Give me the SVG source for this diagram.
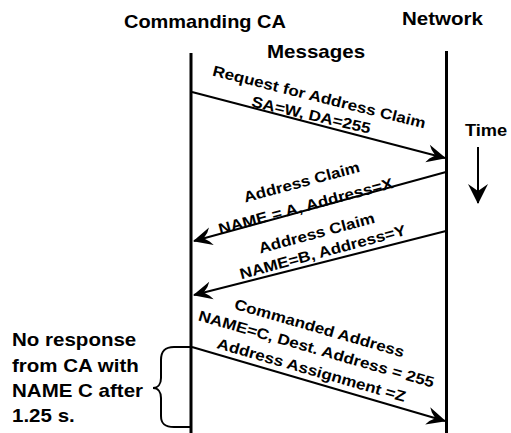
<svg xmlns="http://www.w3.org/2000/svg" width="511" height="433" viewBox="0 0 511 433">
<style>
text{font-family:"Liberation Sans",Arial,sans-serif;font-weight:bold;fill:#000}
.h{font-size:18px}
.l{font-size:15px;text-anchor:middle}
.t{font-size:16px}
.life{stroke:#000;stroke-width:3;fill:none}
.msg{stroke:#000;stroke-width:2;fill:none;marker-end:url(#ah)}
</style>
<defs>
<marker id="ah" markerUnits="userSpaceOnUse" markerWidth="24" markerHeight="24" viewBox="-20 -12 24 24" refX="0" refY="0" orient="auto">
<path d="M1,0 L-18,-9 L-15,-4.5 L-10,0 L-15,4.5 L-18,9 Z" fill="#000"/>
</marker>
<marker id="ta" markerUnits="userSpaceOnUse" markerWidth="24" markerHeight="26" viewBox="-22 -13 24 26" refX="0" refY="0" orient="auto">
<path d="M1,0 L-19,-10 L-12,0 L-19,10 Z" fill="#000"/>
</marker>
</defs>
<g id="commanding-ca">
<text class="h" transform="translate(124,28) scale(1.11,1)">Commanding CA</text>
<line class="life" x1="191" y1="53" x2="191" y2="433"/>
</g>
<g id="network">
<text class="h" transform="translate(402,25) scale(1.14,1)">Network</text>
<line class="life" x1="446.5" y1="51" x2="446.5" y2="433"/>
</g>
<g id="messages-title">
<text class="h" transform="translate(267,58) scale(1.14,1)">Messages</text>
</g>
<g id="time">
<text class="t" transform="translate(465,136) scale(1.14,1)">Time</text>
<line x1="478" y1="147" x2="478" y2="203" stroke="#000" stroke-width="2" marker-end="url(#ta)"/>
</g>
<g id="connectors">
<line class="msg" x1="192" y1="92" x2="445" y2="158"/>
<line class="msg" x1="446" y1="172" x2="194" y2="241"/>
<line class="msg" x1="446" y1="231" x2="194" y2="295" stroke-width="2.4"/>
<line class="msg" x1="192" y1="347" x2="445" y2="421"/>
</g>
<g id="label-request">
<text class="l" transform="translate(318,102) rotate(14) scale(1.14,1)">Request for Address Claim</text>
<text class="l" transform="translate(310,120) rotate(13) scale(1.14,1)">SA=W, DA=255</text>
</g>
<g id="label-claim-a">
<text class="l" transform="translate(303,187) rotate(-15) scale(1.14,1)">Address Claim</text>
<text class="l" transform="translate(307,211) rotate(-15) scale(1.14,1)">NAME = A, Address=X</text>
</g>
<g id="label-claim-b">
<text class="l" transform="translate(318,238) rotate(-15) scale(1.14,1)">Address Claim</text>
<text class="l" transform="translate(324,257) rotate(-15) scale(1.14,1)">NAME=B, Address=Y</text>
</g>
<g id="label-commanded">
<text class="l" transform="translate(318,333) rotate(16) scale(1.14,1)">Commanded Address</text>
<text class="l" transform="translate(315,354) rotate(16) scale(1.14,1)">NAME=C, Dest. Address = 255</text>
<text class="l" transform="translate(310,375) rotate(16) scale(1.14,1)">Address Assignment =Z</text>
</g>
<g id="no-response">
<text class="h" transform="translate(12,346) scale(1.14,1)">No response</text>
<text class="h" transform="translate(12,372) scale(1.14,1)">from CA with</text>
<text class="h" transform="translate(12,397) scale(1.14,1)">NAME C after</text>
<text class="h" transform="translate(12,422) scale(1.14,1)">1.25 s.</text>
<path d="M190,347 L174,347 C164,347 161,352 161,360 L161,378 C161,384 158,388 153,388 C158,388 161,392 161,398 L161,416 C161,424 165,427 174,427 L190,427" fill="none" stroke="#000" stroke-width="2"/>
</g>
</svg>
